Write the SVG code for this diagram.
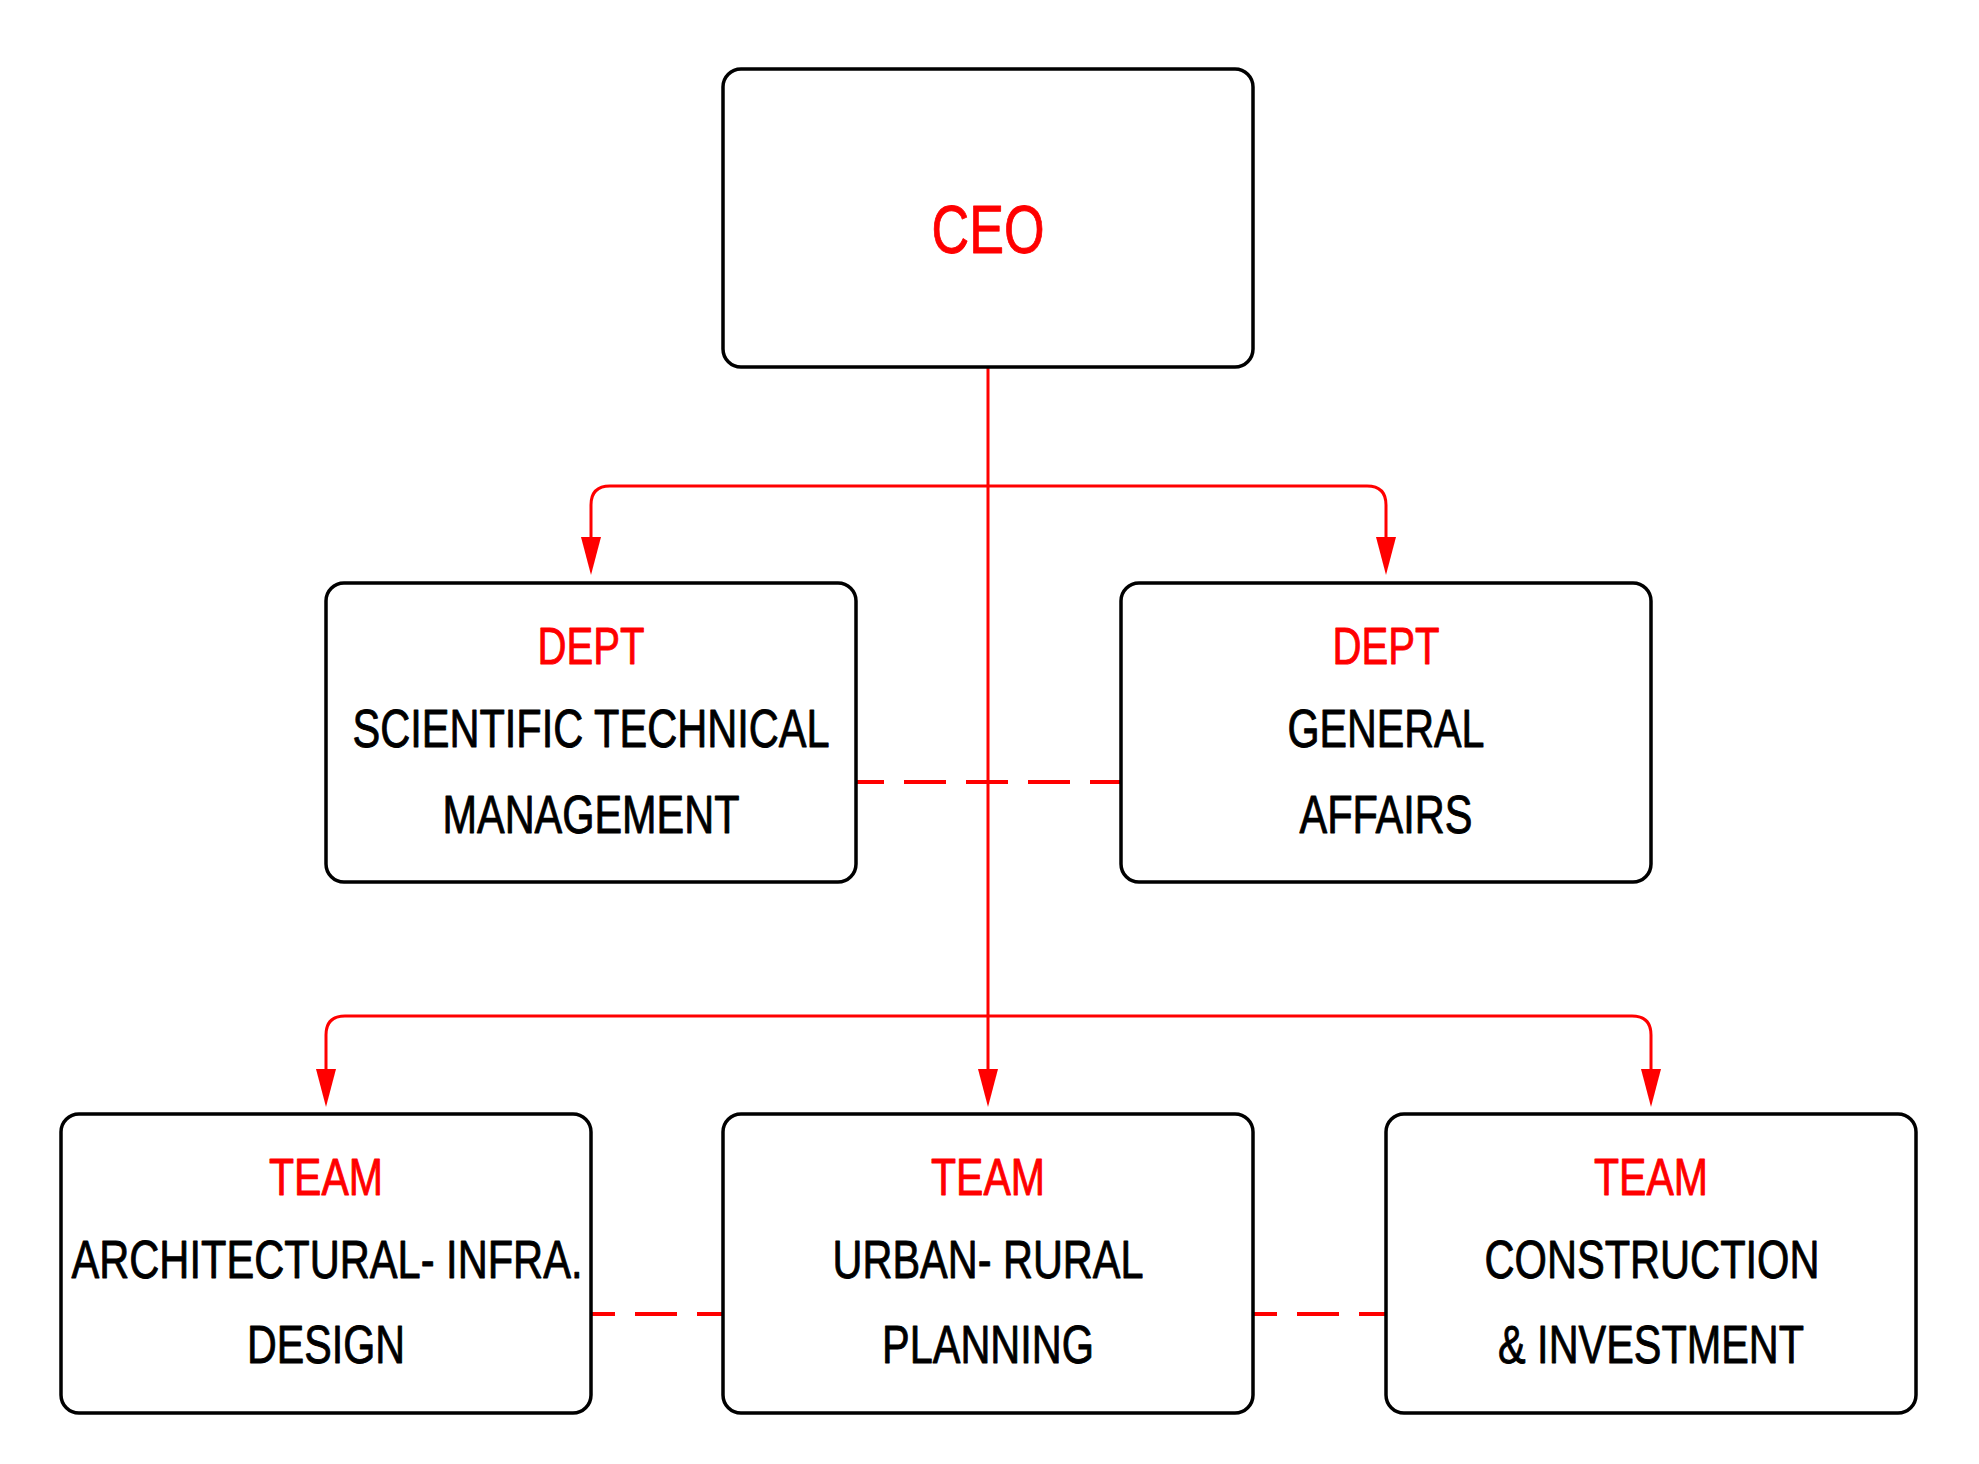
<svg xmlns="http://www.w3.org/2000/svg" width="1979" height="1464" viewBox="0 0 1979 1464">
<style>
.box{fill:#fff;stroke:#000;stroke-width:3.5}
.t{font-family:"Liberation Sans",Arial,sans-serif;text-anchor:middle;stroke-width:0.9;stroke-linejoin:round}
.red{fill:#ff0000;stroke:#ff0000;font-size:52px}
.blk{fill:#000;stroke:#000;font-size:54px}
.ceo{fill:#ff0000;stroke:#ff0000;font-size:68px}
.con{fill:none;stroke:#ff0000;stroke-width:3}
.dash{fill:none;stroke:#ff0000;stroke-width:4;stroke-dasharray:42 20}
</style>
<defs>
<marker id="ah" viewBox="0 0 38 20" refX="8" refY="10" markerWidth="38" markerHeight="20" markerUnits="userSpaceOnUse" orient="auto">
<path d="M0,0 L38,10 L0,20 z" fill="#ff0000"/>
</marker>
</defs>
<rect width="1979" height="1464" fill="#fff"/>
<g id="connectors">
<path class="con" d="M988,367 V1077" marker-end="url(#ah)"/>
<path class="con" d="M988,486 H610 Q591,486 591,505 V545" marker-end="url(#ah)"/>
<path class="con" d="M988,486 H1367 Q1386,486 1386,505 V545" marker-end="url(#ah)"/>
<path class="con" d="M988,1016 H345 Q326,1016 326,1035 V1077" marker-end="url(#ah)"/>
<path class="con" d="M988,1016 H1632 Q1651,1016 1651,1035 V1077" marker-end="url(#ah)"/>
<path class="dash" d="M856,782 H1121" style="stroke-dashoffset:14"/>
<path class="dash" d="M591,1314 H723" style="stroke-dashoffset:18"/>
<path class="dash" d="M1253,1314 H1386" style="stroke-dashoffset:18"/>
</g>
<g id="ceo">
<rect class="box" x="723" y="69" width="530" height="298" rx="18"/>
<text class="t ceo" x="988" y="253" textLength="113" lengthAdjust="spacingAndGlyphs">CEO</text>
</g>
<g id="dept-stm">
<rect class="box" x="326" y="583" width="530" height="299" rx="18"/>
<text class="t red" x="591" y="664" textLength="107" lengthAdjust="spacingAndGlyphs">DEPT</text>
<text class="t blk" x="591" y="747" textLength="477" lengthAdjust="spacingAndGlyphs">SCIENTIFIC TECHNICAL</text>
<text class="t blk" x="591" y="833" textLength="297" lengthAdjust="spacingAndGlyphs">MANAGEMENT</text>
</g>
<g id="dept-ga">
<rect class="box" x="1121" y="583" width="530" height="299" rx="18"/>
<text class="t red" x="1386" y="664" textLength="107" lengthAdjust="spacingAndGlyphs">DEPT</text>
<text class="t blk" x="1386" y="747" textLength="197" lengthAdjust="spacingAndGlyphs">GENERAL</text>
<text class="t blk" x="1386" y="833" textLength="173" lengthAdjust="spacingAndGlyphs">AFFAIRS</text>
</g>
<g id="team-arch">
<rect class="box" x="61" y="1114" width="530" height="299" rx="18"/>
<text class="t red" x="326" y="1195" textLength="114" lengthAdjust="spacingAndGlyphs">TEAM</text>
<text class="t blk" x="327" y="1278" textLength="511" lengthAdjust="spacingAndGlyphs">ARCHITECTURAL- INFRA.</text>
<text class="t blk" x="326" y="1363" textLength="158" lengthAdjust="spacingAndGlyphs">DESIGN</text>
</g>
<g id="team-urban">
<rect class="box" x="723" y="1114" width="530" height="299" rx="18"/>
<text class="t red" x="988" y="1195" textLength="114" lengthAdjust="spacingAndGlyphs">TEAM</text>
<text class="t blk" x="988" y="1278" textLength="311" lengthAdjust="spacingAndGlyphs">URBAN- RURAL</text>
<text class="t blk" x="988" y="1363" textLength="212" lengthAdjust="spacingAndGlyphs">PLANNING</text>
</g>
<g id="team-construction">
<rect class="box" x="1386" y="1114" width="530" height="299" rx="18"/>
<text class="t red" x="1651" y="1195" textLength="114" lengthAdjust="spacingAndGlyphs">TEAM</text>
<text class="t blk" x="1652" y="1278" textLength="335" lengthAdjust="spacingAndGlyphs">CONSTRUCTION</text>
<text class="t blk" x="1651" y="1363" textLength="306" lengthAdjust="spacingAndGlyphs">&amp; INVESTMENT</text>
</g>
</svg>
